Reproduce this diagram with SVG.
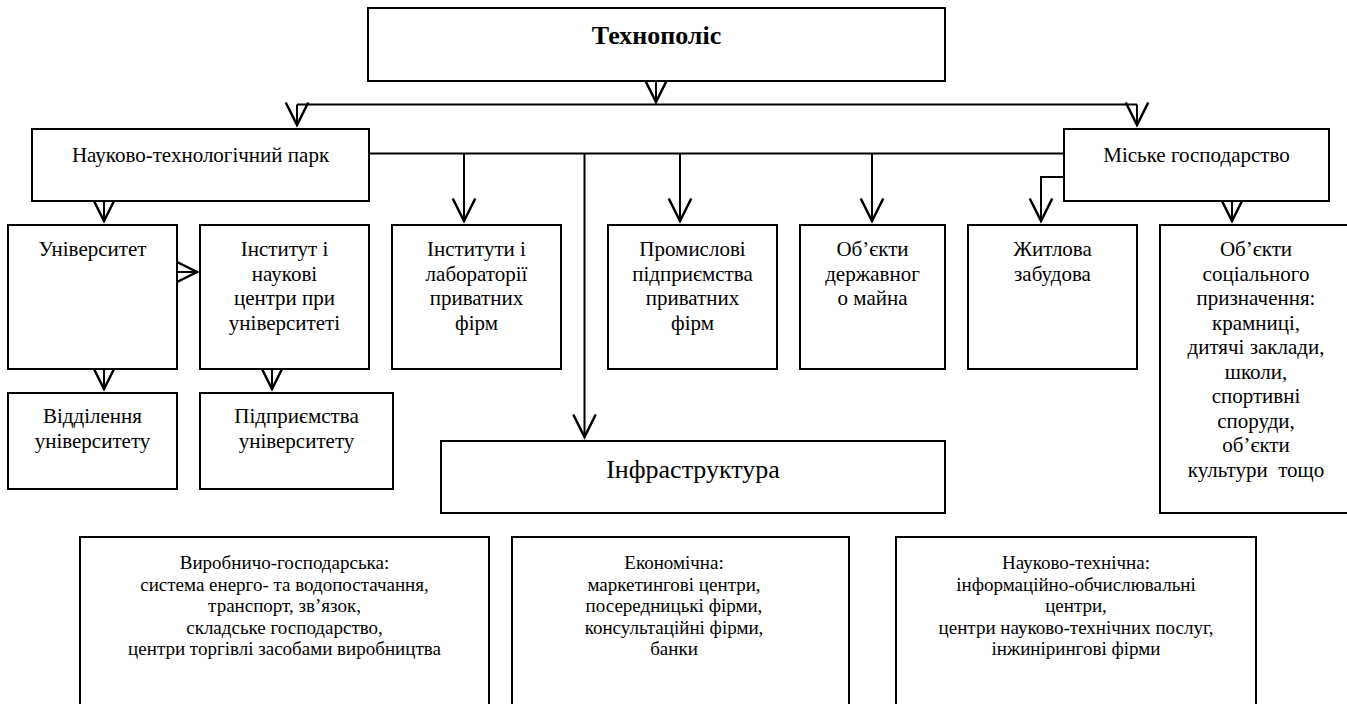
<svg xmlns="http://www.w3.org/2000/svg" width="1347" height="704" viewBox="0 0 1347 704" font-family="'Liberation Serif', 'DejaVu Serif', 'Times New Roman', serif">
<style>
rect.b{fill:#fff;stroke:#000;stroke-width:2}
text{font-family:'Liberation Serif','DejaVu Serif','Times New Roman',serif;font-size:21px;fill:#000;text-anchor:middle}
.t{font-size:26px;font-weight:bold}
.i{font-size:26px}
.s{font-size:19px}
#connectors line,#connectors polyline{stroke:#000;stroke-width:2;fill:none}
</style>
<defs>
<marker id="ah" markerUnits="userSpaceOnUse" markerWidth="30" markerHeight="30" viewBox="-2 -12 24 24" refX="18" refY="0" orient="auto" overflow="visible">
<path d="M0,-9 L18,0 L0,9" fill="none" stroke="#000" stroke-width="2"/>
</marker>
</defs>
<rect width="1347" height="704" fill="#fff"/>

<g id="connectors">
<line x1="656" y1="81" x2="656" y2="102" marker-end="url(#ah)"/>
<line x1="297" y1="104.5" x2="1137" y2="104.5"/>
<line x1="297" y1="104.5" x2="297" y2="125" marker-end="url(#ah)"/>
<line x1="1137" y1="104.5" x2="1137" y2="125" marker-end="url(#ah)"/>
<line x1="369" y1="153.5" x2="1064" y2="153.5"/>
<line x1="464" y1="153.5" x2="464" y2="221" marker-end="url(#ah)"/>
<line x1="584.5" y1="153.5" x2="584.5" y2="437" marker-end="url(#ah)"/>
<line x1="680" y1="153.5" x2="680" y2="221" marker-end="url(#ah)"/>
<line x1="872" y1="153.5" x2="872" y2="221" marker-end="url(#ah)"/>
<polyline points="1064,177 1041,177 1041,221" marker-end="url(#ah)"/>
<line x1="1232" y1="201" x2="1232" y2="221" marker-end="url(#ah)"/>
<line x1="104" y1="201" x2="104" y2="221" marker-end="url(#ah)"/>
<line x1="177" y1="272" x2="197" y2="272" marker-end="url(#ah)"/>
<line x1="104" y1="369" x2="104" y2="389" marker-end="url(#ah)"/>
<line x1="272" y1="369" x2="272" y2="389" marker-end="url(#ah)"/>
</g>

<g id="technopolis"><rect class="b" x="368" y="8" width="577" height="73"/><text class="t" x="656.5" y="44">Технополіс</text></g>
<g id="ntp"><rect class="b" x="32" y="129" width="337" height="72"/><text x="200.5" y="162">Науково-технологічний парк</text></g>
<g id="misk"><rect class="b" x="1064" y="129" width="265" height="72"/><text x="1196.5" y="162">Міське господарство</text></g>

<g id="univ"><rect class="b" x="8" y="225" width="169" height="144"/><text x="92.5" y="256">Університет</text></g>
<g id="instytut"><rect class="b" x="200" y="225" width="169" height="144"/><text x="284.5" y="256">Інститут і</text><text x="284.5" y="280.5">наукові</text><text x="284.5" y="305">центри при</text><text x="284.5" y="329.5">університеті</text></g>
<g id="labs"><rect class="b" x="392" y="225" width="169" height="144"/><text x="476.5" y="256">Інститути і</text><text x="476.5" y="280.5">лабораторії</text><text x="476.5" y="305">приватних</text><text x="476.5" y="329.5">фірм</text></g>
<g id="prom"><rect class="b" x="608" y="225" width="169" height="144"/><text x="692.5" y="256">Промислові</text><text x="692.5" y="280.5">підприємства</text><text x="692.5" y="305">приватних</text><text x="692.5" y="329.5">фірм</text></g>
<g id="derzh"><rect class="b" x="800" y="225" width="145" height="144"/><text x="872.5" y="256">Об’єкти</text><text x="872.5" y="280.5">державног</text><text x="872.5" y="305">о майна</text></g>
<g id="zhytlo"><rect class="b" x="968" y="225" width="169" height="144"/><text x="1052.5" y="256">Житлова</text><text x="1052.5" y="280.5">забудова</text></g>
<g id="social"><rect class="b" x="1160" y="225" width="192" height="288"/>
<text x="1256" y="256">Об’єкти</text><text x="1256" y="280.5">соціального</text><text x="1256" y="305">призначення:</text><text x="1256" y="329.5">крамниці,</text><text x="1256" y="354">дитячі заклади,</text><text x="1256" y="378.5">школи,</text><text x="1256" y="403">спортивні</text><text x="1256" y="427.5">споруди,</text><text x="1256" y="452">об’єкти</text><text x="1256" y="476.5" xml:space="preserve">культури  тощо</text></g>

<g id="viddil"><rect class="b" x="8" y="393" width="169" height="96"/><text x="92.5" y="423">Відділення</text><text x="92.5" y="447.5">університету</text></g>
<g id="pidpr"><rect class="b" x="200" y="393" width="193" height="96"/><text x="296.5" y="423">Підприємства</text><text x="296.5" y="447.5">університету</text></g>
<g id="infra"><rect class="b" x="441" y="441" width="504" height="72"/><text class="i" x="693" y="478">Інфраструктура</text></g>

<g id="vyrob"><rect class="b" x="80" y="537" width="409" height="190"/>
<text class="s" x="284.5" y="569">Виробничо-господарська:</text><text class="s" x="284.5" y="590.5">система енерго- та водопостачання,</text><text class="s" x="284.5" y="612">транспорт, зв’язок,</text><text class="s" x="284.5" y="633.5">складське господарство,</text><text class="s" x="284.5" y="655">центри торгівлі засобами виробництва</text></g>
<g id="ekon"><rect class="b" x="512" y="537" width="337" height="190"/>
<text class="s" x="674" y="569">Економічна:</text><text class="s" x="674" y="590.5">маркетингові центри,</text><text class="s" x="674" y="612">посередницькі фірми,</text><text class="s" x="674" y="633.5">консультаційні фірми,</text><text class="s" x="674" y="655">банки</text></g>
<g id="naukteh"><rect class="b" x="896" y="537" width="360" height="190"/>
<text class="s" x="1076" y="569">Науково-технічна:</text><text class="s" x="1076" y="590.5">інформаційно-обчислювальні</text><text class="s" x="1076" y="612">центри,</text><text class="s" x="1076" y="633.5">центри науково-технічних послуг,</text><text class="s" x="1076" y="655">інжинірингові фірми</text></g>
</svg>
